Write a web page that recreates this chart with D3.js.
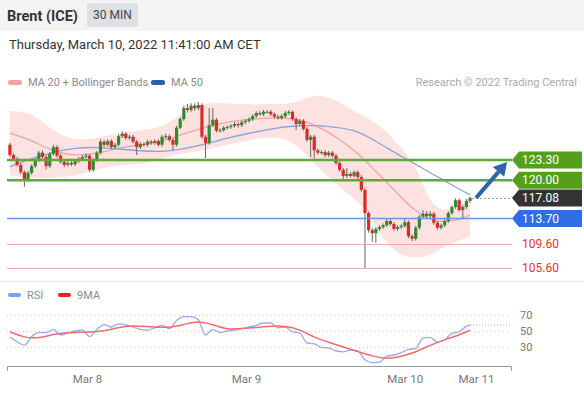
<!DOCTYPE html>
<html>
<head>
<meta charset="utf-8">
<script src="https://cdn.jsdelivr.net/npm/d3@7"></script>
<style>
body { margin: 0; background: #fff; }
svg text { font-family: Roboto, "Liberation Sans", Arial, sans-serif; }
</style>
</head>
<body>
<div id="chart"></div>
<script>
// 30 min candles, Brent (ICE)
var opens = [125.8,124.1,123.5,122.5,121.3,120.0,121.2,122.3,123.3,124.5,
  123.8,122.3,124.3,125.4,124.0,123.0,122.5,122.8,122.6,123.1,
  123.5,123.8,124.0,121.7,123.3,124.5,126.3,125.8,126.4,125.4,
  125.8,127.2,127.6,126.9,127.1,126.3,125.4,125.9,125.8,126.3,
  126.1,126.4,125.8,127.1,127.2,126.6,125.8,128.6,130.0,131.8,
  131.5,132.2,131.8,132.3,127.1,126.1,129.0,129.9,128.1,128.2,
  128.6,128.7,128.9,129.2,129.0,129.5,129.7,130.0,130.5,131.0,
  130.8,131.2,131.2,130.8,130.4,130.2,130.5,131.0,131.2,130.0,
  129.2,129.7,128.4,126.6,127.1,124.9,124.5,124.6,124.1,124.5,
  124.0,122.8,121.7,120.7,121.0,120.7,121.3,120.5,118.4,114.6,
  111.8,111.3,112.0,112.3,112.6,113.3,112.8,112.0,112.3,112.5,
  113.1,110.8,110.4,112.2,114.0,114.5,114.1,114.5,113.0,112.2,
  112.6,113.3,114.6,115.6,116.7,115.1,115.6,116.6];
var closes = [124.1,123.5,122.5,121.3,120.0,121.2,122.3,123.3,124.5,123.8,
  122.3,124.3,125.4,124.0,123.0,122.5,122.8,122.6,123.1,123.5,
  123.8,124.0,121.7,123.3,124.5,126.3,125.8,126.4,125.4,125.8,
  127.2,127.6,126.9,127.1,126.3,125.4,125.9,125.8,126.3,126.1,
  126.4,125.8,127.1,127.2,126.6,125.8,128.6,130.0,131.8,131.5,
  132.2,131.8,132.3,127.1,126.1,129.0,129.9,128.1,128.2,128.6,
  128.7,128.9,129.2,129.0,129.5,129.7,130.0,130.5,131.0,130.8,
  131.2,131.2,130.8,130.4,130.2,130.5,131.0,131.2,130.0,129.2,
  129.7,128.4,126.6,127.1,124.9,124.5,124.6,124.1,124.5,124.0,
  122.8,121.7,120.7,121.0,120.7,121.3,120.5,118.4,114.6,111.8,
  111.3,112.0,112.3,112.6,113.3,112.8,112.0,112.3,112.5,113.1,
  110.8,110.4,112.2,114.0,114.5,114.1,114.5,113.0,112.2,112.6,
  113.3,114.6,115.6,116.7,115.1,115.6,116.6,117.1];
var highs = [126.1,124.4,123.8,122.8,121.6,121.5,122.6,123.6,124.8,124.9,
  124.1,124.6,125.8,125.7,124.3,123.3,123.1,123.1,123.4,123.8,
  124.1,124.4,124.3,123.6,124.8,126.7,126.6,126.7,126.7,126.1,
  127.5,128.0,127.9,127.4,127.4,126.6,126.2,126.2,126.6,126.6,
  126.7,126.7,127.4,127.6,127.5,126.9,128.9,130.3,132.2,132.5,
  132.6,132.6,132.8,132.6,127.4,131.8,131.8,130.2,128.5,128.9,
  129.0,129.2,129.5,129.5,129.8,130.0,130.3,130.8,131.3,131.3,
  131.5,131.5,131.5,131.1,130.7,130.8,131.3,131.5,131.4,130.3,
  130.0,130.0,128.7,127.4,127.4,125.2,124.9,124.9,124.8,124.8,
  124.3,123.1,122.0,122.0,121.3,121.6,121.6,120.8,118.7,114.9,
  112.2,112.3,112.6,112.9,113.6,113.6,113.1,112.6,112.8,113.7,
  113.4,111.1,112.5,114.3,115.1,114.9,114.9,114.8,113.3,112.9,
  113.6,114.9,115.9,117.0,117.0,115.9,116.9,117.3];
var lows = [123.8,123.2,122.2,121.0,118.9,119.7,120.9,122.0,123.0,123.5,
  121.8,122.0,124.0,123.7,122.7,122.1,122.2,122.3,122.3,122.8,
  123.2,123.5,121.3,121.4,123.0,124.2,125.4,125.5,125.1,125.1,
  125.5,126.9,126.6,126.6,126.0,124.1,125.1,125.5,125.5,125.8,
  125.8,125.5,125.5,126.8,126.3,124.9,125.5,128.3,129.7,131.1,
  131.2,131.4,131.5,126.8,123.6,125.8,128.7,127.8,127.8,127.9,
  128.3,128.4,128.6,128.6,128.7,129.2,129.4,129.7,130.2,130.5,
  130.5,130.9,130.5,130.1,129.9,129.9,130.2,130.7,129.7,128.2,
  128.9,128.1,126.3,123.8,123.6,124.2,124.2,123.8,123.8,123.7,
  122.5,121.4,120.0,120.4,120.4,120.4,120.2,118.1,105.6,111.4,
  109.9,109.7,111.7,112.0,112.3,112.5,111.7,111.7,112.0,112.2,
  110.5,110.0,110.1,111.9,113.7,113.8,113.8,112.7,111.9,111.9,
  112.3,113.0,114.3,115.3,114.8,113.6,115.3,116.3];

// indicators, read at these candle indexes
var indIdx = [0,6,12,18,24,30,36,42,48,54,60,66,72,78,84,90,96,100,104,108,112,116,120,124,127];
var bbUpper = [131.3,131.2,127.9,126.4,126.9,127.7,128.2,128.5,131.2,132.8,132.6,132.3,132.6,132.3,134.3,133.3,130.8,129.9,127.9,125.3,122.6,115.9,114.9,115.8,117.2];
var bbLower = [120.8,120.3,120.3,120.7,121.7,122.6,122.5,123.6,124.4,124.9,125.8,126.6,127.1,126.6,122.8,119.2,116.7,113.5,109.4,107.6,107.2,107.6,109.2,110.2,110.7];
var ma20 = [127.7,126.6,124.6,124.0,124.3,125.3,125.8,126.3,127.6,128.7,129.5,130.0,130.2,130.2,129.2,127.1,124.5,122.0,119.7,117.1,114.9,113.5,113.1,113.5,114.3];
var ma50 = [122.2,123.6,124.6,125.3,125.4,125.1,124.8,124.6,125.1,125.9,126.9,127.7,128.4,128.9,129.0,128.7,128.1,126.7,125.3,123.9,122.6,121.2,119.9,118.5,117.6];

var rsiIdx = d3.range(0, 128, 2).concat([127]);
var rsi = [42.5,36.5,32,43,48,48,52,45,47.5,50,
  51,43,52,58,55,59,57.5,55,52,51,
  54,57,53,63,68,68,64,45,52,48,
  50,51,53,55,57,60,60,54,55,49,
  47.5,35,34,29.5,28.8,25,24,26,25,14,
  10.5,11,18.5,20,23,27,28,41,42,36,
  39,47,49,56,57.5];
var maIdx = d3.range(0, 128, 4).concat([127]);
var rsiMa = [49,41.5,41,46,48,48.5,48.8,52,56.5,56,
  55,54,58,63,58,51.5,53,54.5,56,56.5,
  52,42,36,30,24.5,18.5,15,18,23.5,32.5,
  39,45,51];
var rsiLevels = [70, 50, 30];

var levels = [123.30, 120.00, 117.08, 113.70, 109.60, 105.60];
var levelKind = ["resistance", "resistance", "last", "pivot", "support", "support"];

var tickIdx = [21.4, 65.3, 109.1, 128.8];
var tickLabels = ["Mar 8", "Mar 9", "Mar 10", "Mar 11"];

var width = 584, height = 393;
var styles = {
  resistance: {line: "#62a838", width: 2.5, tag: "#54a01c", text: "#fff"},
  last: {line: "#999", width: 1, dash: "2,2", tag: "#333", text: "#fff"},
  pivot: {line: "#6d95f2", width: 1.5, tag: "#2f6de6", text: "#fff"},
  support: {line: "#f7a8a8", width: 1, tag: null, text: "#e8322c"}
};

var svg = d3.select("#chart").append("svg")
  .attr("width", width)
  .attr("height", height);

// header
svg.append("rect").attr("x", 0).attr("y", 0).attr("width", width).attr("height", 31).attr("fill", "#f4f4f4");
svg.append("text").attr("x", 7).attr("y", 16).attr("dy", "0.35em")
  .attr("font-size", 14.5).attr("font-weight", "bold").attr("fill", "#333")
  .text("Brent (ICE)");
svg.append("rect").attr("x", 87).attr("y", 3).attr("width", 51).attr("height", 24).attr("rx", 2).attr("fill", "#dde0e5");
svg.append("text").attr("x", 112.5).attr("y", 15).attr("dy", "0.35em").attr("text-anchor", "middle")
  .attr("font-size", 12).attr("fill", "#444").text("30 MIN");
svg.append("text").attr("x", 9).attr("y", 44).attr("dy", "0.35em")
  .attr("font-size", 13).attr("fill", "#333")
  .text("Thursday, March 10, 2022 11:41:00 AM CET");

// legend
function legendItem(g, lx, color, label) {
  g.append("rect").attr("x", lx).attr("y", 80).attr("width", 14).attr("height", 5).attr("rx", 2).attr("fill", color);
  g.append("text").attr("x", lx + 20).attr("y", 82.5).attr("dy", "0.35em")
    .attr("font-size", 11).attr("fill", "#8c8c8c").text(label);
}
var legend = svg.append("g");
legendItem(legend, 8, "#f7a3a3", "MA 20 + Bollinger Bands");
legendItem(legend, 151, "#2d5ea8", "MA 50");
svg.append("text").attr("x", 577).attr("y", 82.5).attr("dy", "0.35em").attr("text-anchor", "end")
  .attr("font-size", 11).attr("fill", "#aaa").text("Research \u00a9 2022 Trading Central");

var x = d3.scaleLinear().domain([-0.8, 138.3]).range([7, 511]);
var y = d3.scaleLinear().domain([105.6, 123.3]).range([268, 160]);
var yRsi = d3.scaleLinear().domain([30, 70]).range([347, 315]);
var lineRight = 512;

// bollinger + moving averages
var band = d3.area()
  .x(function(d, i) { return x(indIdx[i]); })
  .y0(function(d, i) { return y(bbLower[i]); })
  .y1(function(d) { return y(d); })
  .curve(d3.curveBasis);
svg.append("path").datum(bbUpper).attr("d", band).attr("fill", "#fde2e2");

var indLine = d3.line()
  .x(function(d, i) { return x(indIdx[i]); })
  .y(function(d) { return y(d); })
  .curve(d3.curveBasis);
svg.append("path").datum(ma20).attr("d", indLine).attr("fill", "none").attr("stroke", "#f5a3a3").attr("stroke-width", 1.3);
svg.append("path").datum(ma50).attr("d", indLine).attr("fill", "none").attr("stroke", "#8ba3d8").attr("stroke-width", 1.3);

// candles
var candles = svg.append("g").selectAll("g")
  .data(closes)
  .enter().append("g");
candles.append("line")
  .attr("x1", function(d, i) { return x(i); })
  .attr("x2", function(d, i) { return x(i); })
  .attr("y1", function(d, i) { return y(highs[i]); })
  .attr("y2", function(d, i) { return y(lows[i]); })
  .attr("stroke", "#666").attr("stroke-width", 1);
candles.append("rect")
  .attr("x", function(d, i) { return x(i) - 1.6; })
  .attr("width", 3.2)
  .attr("y", function(d, i) { return y(Math.max(opens[i], d)); })
  .attr("height", function(d, i) { return Math.max(1, Math.abs(y(opens[i]) - y(d))); })
  .attr("fill", function(d, i) { return d >= opens[i] ? "#2e8a2e" : "#d62b26"; });

// levels
levels.forEach(function(v, k) {
  var s = styles[levelKind[k]];
  var ly = y(v);
  var lc = s.width == 1 ? Math.round(ly) + 0.5 : ly;
  svg.append("line")
    .attr("x1", levelKind[k] == "last" ? x(127) + 2 : 7).attr("x2", lineRight)
    .attr("y1", lc).attr("y2", lc)
    .attr("stroke", s.line).attr("stroke-width", s.width)
    .attr("stroke-dasharray", s.dash || null);
  if (s.tag) {
    svg.append("path")
      .attr("d", "M" + lineRight + "," + ly + "L" + (lineRight + 7) + "," + (ly - 8.5) + "H582V" + (ly + 8.5) + "H" + (lineRight + 7) + "Z")
      .attr("fill", s.tag);
  }
  svg.append("text").attr("x", 522).attr("y", ly).attr("dy", "0.35em")
    .attr("font-size", 12).attr("fill", s.text).text(d3.format(".2f")(v));
});

// target arrow
var ax0 = x(127) + 6, ay0 = y(closes[127]);
var ax1 = x(127) + 37, ay1 = y(levels[0]) + 2;
var len = Math.hypot(ax1 - ax0, ay1 - ay0), ux = (ax1 - ax0) / len, uy = (ay1 - ay0) / len;
var bx = ax1 - 13 * ux, by = ay1 - 13 * uy;
svg.append("line").attr("x1", ax0).attr("y1", ay0).attr("x2", bx).attr("y2", by)
  .attr("stroke", "#2e64a8").attr("stroke-width", 4);
svg.append("path")
  .attr("d", "M" + ax1 + "," + ay1 + "L" + (bx - 7.5 * uy) + "," + (by + 7.5 * ux) + "L" + (bx + 7.5 * uy) + "," + (by - 7.5 * ux) + "Z")
  .attr("fill", "#2e64a8");

// rsi panel
svg.append("line").attr("x1", 0).attr("x2", width).attr("y1", 281.5).attr("y2", 281.5).attr("stroke", "#ececec");
var rl = svg.append("g");
rl.append("rect").attr("x", 8).attr("y", 293).attr("width", 13).attr("height", 4).attr("rx", 2).attr("fill", "#7d9cf0");
rl.append("text").attr("x", 27).attr("y", 295).attr("dy", "0.35em").attr("font-size", 11).attr("fill", "#8c8c8c").text("RSI");
rl.append("rect").attr("x", 58).attr("y", 293).attr("width", 13).attr("height", 4).attr("rx", 2).attr("fill", "#f21d1d");
rl.append("text").attr("x", 77).attr("y", 295).attr("dy", "0.35em").attr("font-size", 11).attr("fill", "#8c8c8c").text("9MA");

rsiLevels.forEach(function(v) {
  svg.append("line").attr("x1", 7).attr("x2", 510).attr("y1", Math.round(yRsi(v)) + 0.5).attr("y2", Math.round(yRsi(v)) + 0.5)
    .attr("stroke", "#ccc").attr("stroke-dasharray", "1,3");
  svg.append("text").attr("x", 520).attr("y", yRsi(v)).attr("dy", "0.35em")
    .attr("font-size", 11).attr("fill", "#777").text(v);
});

var rsiLine = d3.line()
  .x(function(d, i) { return x(rsiIdx[i]); })
  .y(function(d) { return yRsi(d); })
  .curve(d3.curveMonotoneX);
var maLine = d3.line()
  .x(function(d, i) { return x(maIdx[i]); })
  .y(function(d) { return yRsi(d); })
  .curve(d3.curveBasis);
svg.append("path").datum(rsi).attr("d", rsiLine).attr("fill", "none").attr("stroke", "#94abf2").attr("stroke-width", 1.3);
svg.append("line").attr("x1", x(127)).attr("x2", 510)
  .attr("y1", yRsi(rsi[rsi.length - 1])).attr("y2", yRsi(rsi[rsi.length - 1]))
  .attr("stroke", "#94abf2").attr("stroke-dasharray", "1,2");
svg.append("path").datum(rsiMa).attr("d", maLine).attr("fill", "none").attr("stroke", "#f26a6a").attr("stroke-width", 1.5);

// time axis
svg.append("path").attr("d", "M7.5,371V366.5H511.5V371").attr("fill", "none").attr("stroke", "#999");
svg.selectAll(".tick").data(tickIdx).enter().append("text")
  .attr("x", function(d) { return x(d); })
  .attr("y", 379).attr("dy", "0.35em").attr("text-anchor", "middle")
  .attr("font-size", 11.5).attr("fill", "#777")
  .text(function(d, i) { return tickLabels[i]; });
</script>
</body>
</html>
